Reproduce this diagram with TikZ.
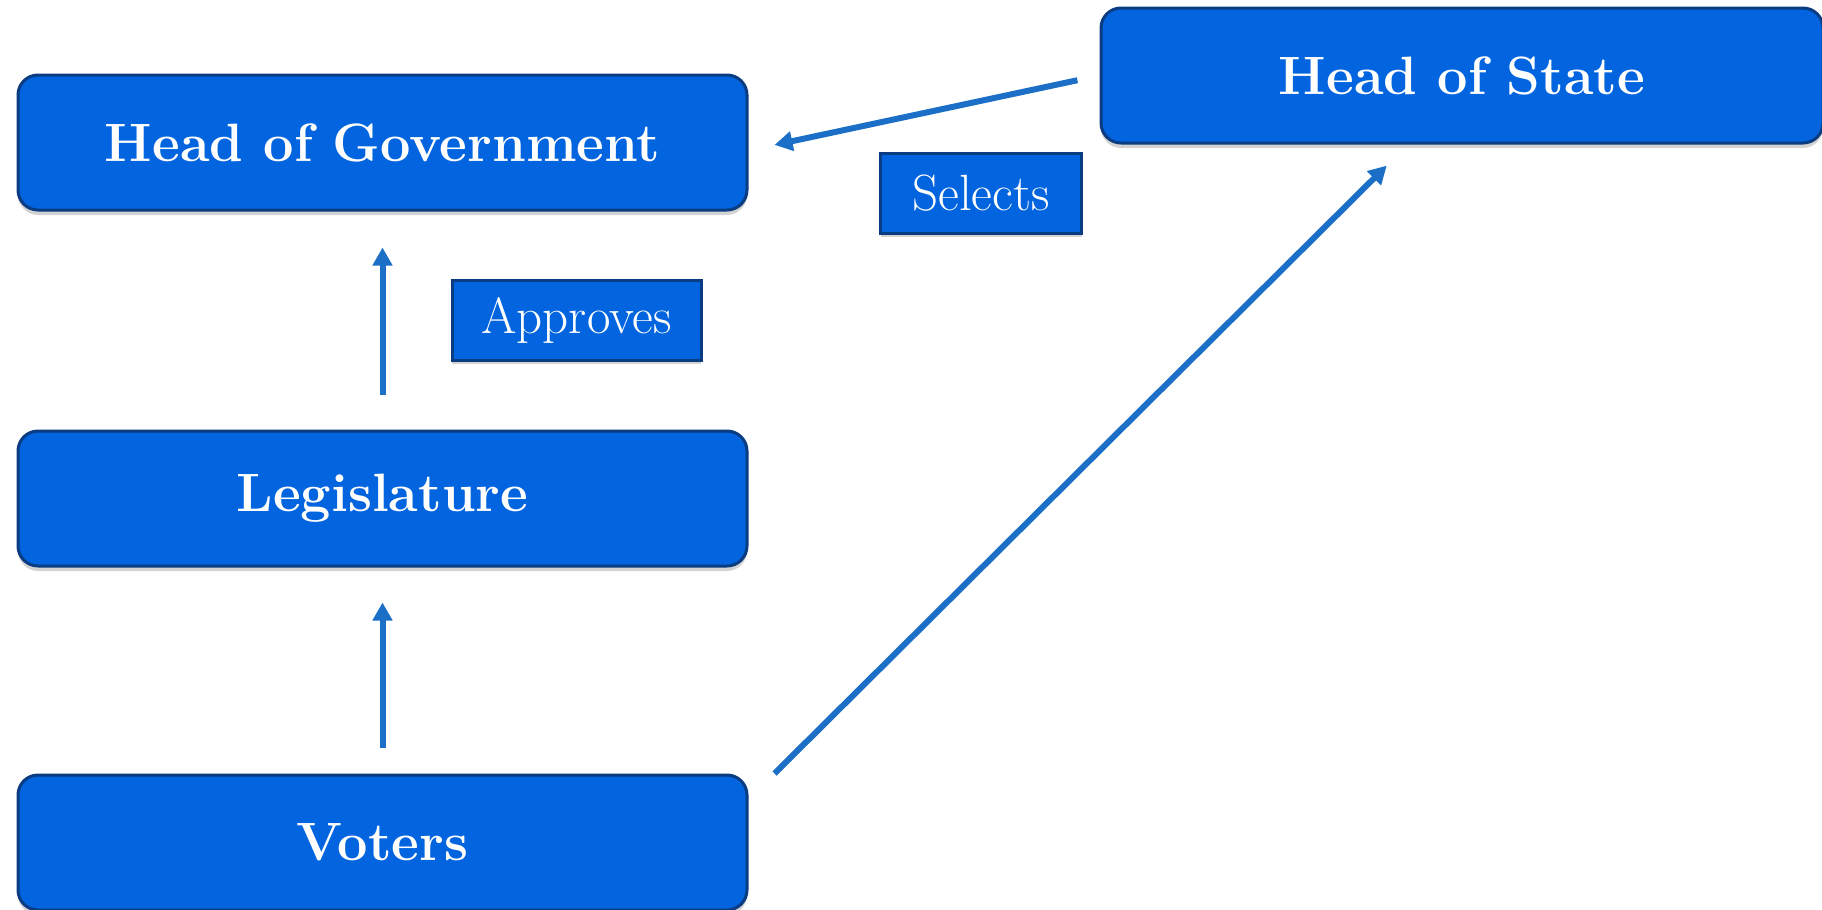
\documentclass[tikz,border=0pt]{standalone}
\usepackage{tikz}
\usetikzlibrary{arrows.meta,positioning,shadows}
\definecolor{boxblue}{HTML}{0264DE}
\definecolor{boxedge}{HTML}{0A3C82}
\definecolor{arrblue}{HTML}{1B6FC6}

\begin{document}
\begin{tikzpicture}[x=0.5pt,y=-0.5pt,->,>={Triangle[length=9pt,width=9.5pt]},
		line width=3pt,node distance=178pt,color=arrblue]
		\tikzstyle{office}=[rectangle,rounded corners=10pt,fill=boxblue,draw=boxedge,
			line width=1.5pt,text=white,minimum width=364.5pt,minimum height=67.5pt,
			font=\bfseries\fontsize{27}{32}\selectfont,
			drop shadow={opacity=0.35,shadow xshift=0pt,shadow yshift=-2.5pt}]
		\tikzstyle{tag}=[rectangle,fill=boxblue,draw=boxedge,line width=1.5pt,
			text=white,minimum height=40pt,inner sep=0pt,
			font=\fontsize{25.5}{30}\selectfont,
			drop shadow={opacity=0.35,shadow xshift=0pt,shadow yshift=-2pt}]
		
		\useasboundingbox (0,0) rectangle (1822,910);
		
		\node[office]        (hog) at (382.5,142.5) {Head of Government};
		\node[office]        (leg) [below of=hog]   {Legislature};
		\node[office]        (vot) [below of=leg,node distance=172pt] {Voters};
		\node[office,minimum width=361pt] (hos) at (1462,75.5) {Head of State};
		
		\node[tag,minimum width=100.5pt] (sel) at (981,193) {Selects};
		\node[tag,minimum width=124.5pt] (app) at (576.5,320) {Approves};
		
		\path (hos.west) edge [shorten <=11.3pt,shorten >=13.3pt] ([yshift=-4pt]hog.east)
		(leg.north) edge [shorten <=17.5pt,shorten >=18pt] (hog.south)
		(vot.north) edge [shorten <=13pt,shorten >=17.5pt] (leg.south)
		([xshift=13pt]vot.north east) edge [shorten >=15pt] ([xshift=-27pt]hos.south);
	\end{tikzpicture}
\end{document}
